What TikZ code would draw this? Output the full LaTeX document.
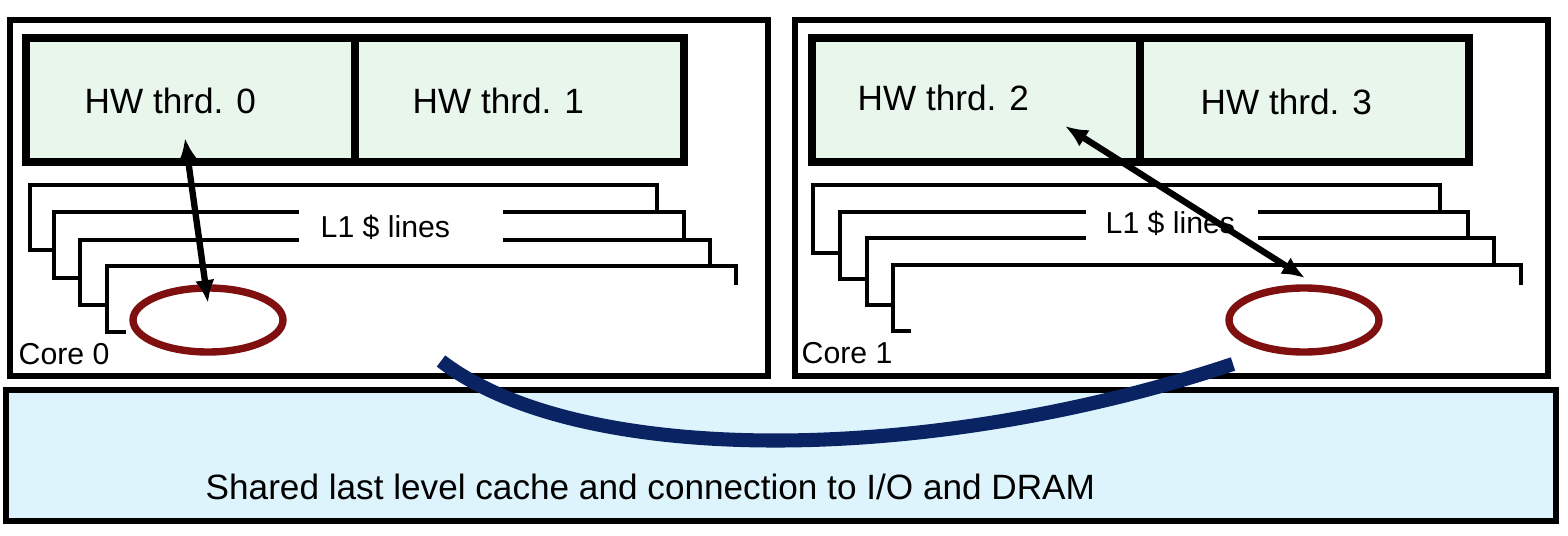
\documentclass[tikz,border=0pt]{standalone}
\usepackage{fontspec}
\setmainfont{Liberation Sans}
\usetikzlibrary{arrows,arrows.meta}

\definecolor{thrdgreen}{RGB}{232,246,236}
\definecolor{llcblue}{RGB}{222,244,252}
\definecolor{ringred}{RGB}{128,16,16}
\definecolor{busblue}{RGB}{10,36,99}

\begin{document}
\begin{tikzpicture}[x=0.01cm,y=-0.01cm]

\tikzset{corebox/.style = {draw,line width=1.7pt}}
\tikzset{thrdbox/.style = {draw,line width=2.5pt,fill=thrdgreen}}
\tikzset{llcbox/.style = {draw,line width=1.9pt,fill=llcblue}}
\tikzset{l1line/.style = {line width=1.3pt}}
\tikzset{gapbox/.style = {fill=white,inner sep=0pt,minimum height=0.39cm}}
\tikzset{lbl/.style = {anchor=base west,inner sep=0pt,font=\fontsize{10}{12}\selectfont}}
\tikzset{small/.style = {anchor=base west,inner sep=0pt,font=\fontsize{8.6}{10}\selectfont}}
\tikzset{ring/.style = {ringred,line width=2.1pt}}
\tikzset{access/.style = {<->,> = {Latex[length=6.5pt,width=5.5pt]},line width=1.8pt}}

\useasboundingbox (0,0) rectangle (1568,536);

% shared cache
\draw[llcbox] (6,390) rectangle (1556,521);
\node[lbl] (llc) at (205,499) {Shared last level cache and connection to I/O and DRAM};

% cores
\draw[corebox] (10,20) rectangle (768,376);
\draw[corebox] (795,20) rectangle (1548,376);
\node[small] (core0) at (18,364) {Core 0};
\node[small] (core1) at (801,363) {Core 1};

% hardware threads
\draw[thrdbox] (26,38) rectangle (684,162);
\draw[line width=2.5pt] (355,38) -- (355,162);
\draw[thrdbox] (812,38) rectangle (1469,162);
\draw[line width=2.5pt] (1140,38) -- (1140,162);
\node[lbl] (t0) at (84,113) {HW thrd. 0};
\node[lbl] (t1) at (412,113) {HW thrd. 1};
\node[lbl] (t2) at (857,110) {HW thrd. 2};
\node[lbl] (t3) at (1200,114) {HW thrd. 3};

% L1 lines, core 0
\draw[l1line] (54,250) -- (30,250) -- (30,185) -- (657,185) -- (657,210);
\draw[l1line] (80,278) -- (54,278) -- (54,212) -- (684,212) -- (684,238);
\draw[l1line] (107,305) -- (80,305) -- (80,240) -- (710,240) -- (710,265);
\draw[l1line] (126,332) -- (107,332) -- (107,266) -- (736,266) -- (736,285);
\node[gapbox,minimum width=2.03cm] (gap0) at (401,226) {};
\node[small] (l1a) at (320,237) {L1 \$ lines};

% L1 lines, core 1
\draw[l1line] (840,253) -- (813,253) -- (813,185) -- (1440,185) -- (1440,210);
\draw[l1line] (867,279) -- (840,279) -- (840,212) -- (1468,212) -- (1468,238);
\draw[l1line] (893,305) -- (867,305) -- (867,238) -- (1494,238) -- (1494,265);
\draw[l1line] (911,331) -- (893,331) -- (893,265) -- (1521,265) -- (1521,285);
\node[gapbox,minimum width=1.71cm] (gap1) at (1172,225) {};
\node[small] (l1b) at (1105,233) {L1 \$ lines};

% cache lines
\draw[ring] (208,320) ellipse (75 and 32);
\draw[ring] (1304,320) ellipse (75 and 32);

% accesses
\coordinate (a0) at (185,138);
\coordinate (b0) at (208,303);
\coordinate (a1) at (1065,126);
\coordinate (b1) at (1305,278);
\draw[access] (a0) to (b0);
\draw[access] (a1) to (b1);

% transfer
\coordinate (s0) at (441,361);
\coordinate (s1) at (1233,364);
\draw[busblue,line width=4pt] (s0) .. controls (580,468) and (930,465) .. (s1);
\end{tikzpicture}
\end{document}
